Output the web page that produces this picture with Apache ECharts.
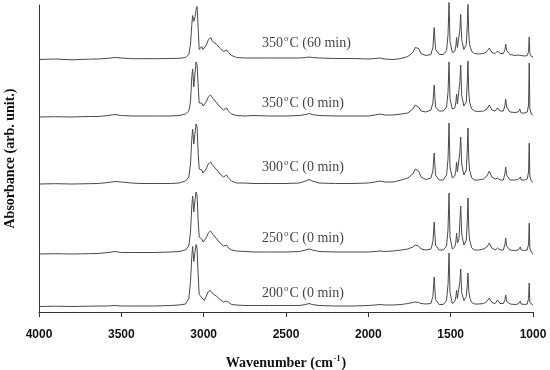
<!DOCTYPE html>
<html>
<head>
<meta charset="utf-8">
<script src="https://cdn.jsdelivr.net/npm/echarts@6/dist/echarts.min.js"></script>
<style>html,body{margin:0;padding:0;background:#fff}#c{width:550px;height:370px}</style>
</head>
<body>
<div id="c"></div>
<script>
// Wavenumber grid (cm-1), rows of 10
const wavenumbers = [
  4000,3900,3800,3700,3640,3580,3540,3500,3440,3380,
  3300,3200,3150,3110,3090,3080,3072,3067,3060,3052,
  3046,3040,3033,3027,3020,3012,3004,2996,2985,2972,
  2965,2958,2946,2935,2920,2900,2880,2868,2860,2850,
  2830,2800,2750,2700,2600,2500,2420,2380,2360,2340,
  2300,2200,2100,2000,1960,1930,1900,1850,1800,1760,
  1730,1715,1706,1695,1680,1650,1620,1608,1600,1592,
  1570,1545,1525,1516,1510,1504,1490,1475,1468,1464,
  1459,1450,1444,1439,1433,1420,1405,1399,1395,1390,
  1385,1380,1372,1355,1330,1300,1280,1265,1250,1230,
  1215,1200,1180,1170,1166,1160,1140,1110,1090,1080,
  1077,1072,1050,1035,1027,1023,1019,1010,1000
];

// Absorbance (arb. units) of each spectrum, same order as wavenumbers
const abs350_60 = [
  0,0.5,-0.3,0.3,0.5,1.2,2,1.5,0.8,0.8,
  0.8,1,1.2,2,5,15,35,44,38,43,
  50,53,30,10,12,13,10,8,14,19.5,
  18,22,18,20,15,11,8,9,9.5,7,
  4,2,1.5,1.5,1.5,1.5,1.5,2,2.5,2,
  1.5,1,1,0.5,1,1.5,0.5,0,1,3,
  7,12,14,11,6,4,5,12,32,10,
  5,5,9,25,57,18,7,8,14,22,
  12,14,30,45,20,10,15,35,55,25,
  15,12,8,6,5.5,6,8,11.5,7,6,
  8.5,6,6,10,15.5,9,5,4,4.5,6,
  6.5,4,3.5,4,8,22.5,6,3,2.5
];
const abs350_0 = [
  0,0.3,0,0.5,0.5,1.5,2.5,1.5,1,1,
  1,1,1.5,3,6,15,40,48,30,45,
  55,52,30,14,15,14,11,10,15,20,
  18,22,19,18.5,14,10,7,8,9,6,
  3,1.5,1,1.5,1,1,1.5,2.5,3.5,2.5,
  1.5,1,1,1,2,3,2,2,3,4,
  8,12,13,10,6,5,7,14,32,10,
  6,6,10,25,55,18,8,9,15,23,
  13,15,35,52,22,11,15,35,56,25,
  15,12,8,6,5.5,6,8,12,7,6,
  9,6,6,12,18,10,5,4.5,5,8,
  9,4,4,5,12,54,8,3,2
];
const abs300_0 = [
  0,0.3,0,0.3,0.5,1.5,2.5,2,1,0.5,
  0.5,0.5,1,3,7,20,45,55,40,52,
  60,57,30,15,16,14,11,10,15,20,
  18,22,19,18,14,10,7,8,9,6,
  3,1,1,0.5,0.5,0.5,1,3,4.5,3,
  1,0.5,0.5,1,2,3,2,2,4,6,
  10,15,16.5,13,7,4.5,6,13,31,9,
  4,4,9,25,61,17,6,8,14,22,
  12,14,32,47,20,9,14,35,56,25,
  14,11,6,4,4,5,8,13,7,5,
  6,4,4,11,17,9,4,4,4.5,6,
  7,4,4,5,12,41,7,3,2
];
const abs250_0 = [
  0,0.3,0,0.3,0.5,1.5,2.5,1.5,1.5,1.5,
  1.5,2,2.5,4,8,22,48,58,42,55,
  62,58,32,17,18,15,12,11,16,21,
  19,23,20,19,15,11,8,8.5,9,6,
  4,3,2.5,2,2,2,2.5,4,5,4,
  2.5,2,2,2,2.5,3,2.5,3,4,5,
  7,9,10,8,5,4,5,12,32,9,
  4,4,8,25,61,17,5,7,13,21,
  11,14,32,48,20,9,14,34,56,25,
  14,11,6,4,4,5,7,11,6,4,
  6,4,4,10,16,8,4,3.5,4,6,
  7,4,3.5,4,10,31,6,2,0
];
const abs200_0 = [
  0,0.3,0,0.3,0.5,0.5,1,0.5,0.5,0.5,
  0.5,1,1.5,2.5,8,25,50,60,45,55,
  62,58,30,12,10,9,7,6,10,15,
  13,16,13,14,10,7,4.5,5,5.5,3.5,
  2,1.5,1,1,1,1,1,2,3,2,
  1,0.5,0.5,1,1.5,2,1.5,1.5,2,3,
  4,4.5,4.5,4,3,2.5,3,10,29.5,7,
  2,2,6,22,53.5,14,3,5,10,16.5,
  8,10,25,37.5,14,6,10,22,33.5,16,
  9.5,7,4,2.5,2.5,3,5,8.5,4,3,
  6.5,3,3,7,11.5,5,2.5,2,2.5,4,
  5.5,2.5,2,2.5,8,23.5,4,2,1.5
];

// Stacking offsets (arb. units) for each spectrum, top to bottom
const spectra = [abs350_60, abs350_0, abs300_0, abs250_0, abs200_0];
const offsets = [252.5, 195, 128, 58, 5.5];
const labelTemps = ['350', '350', '300', '250', '200'];
const labelTimes = ['60 min', '0 min', '0 min', '0 min', '0 min'];
const labelWavenumber = 2646;
const labelLevels = [269, 209, 145, 74, 19];

const xTicks = [1000, 1500, 2000, 2500, 3000, 3500, 4000];

const lineColor = '#4a4a4a';
const series = spectra.map((vals, k) => ({
  type: 'line',
  name: labelTemps[k] + '°C (' + labelTimes[k] + ')',
  data: wavenumbers.map((w, i) => [w, offsets[k] + vals[i]]),
  showSymbol: false,
  symbol: 'none',
  clip: false,
  lineStyle: { color: lineColor, width: 1 },
  silent: true,
  animation: false
}));

series.push({
  type: 'scatter',
  symbolSize: 0,
  animation: false,
  silent: true,
  data: labelLevels.map((y, k) => ({ value: [labelWavenumber, y], temp: labelTemps[k], time: labelTimes[k] })),
  label: {
    show: true,
    position: 'right',
    distance: 0,
    formatter: p => p.data.temp + '{sup|o}C (' + p.data.time + ')',
    fontFamily: 'Liberation Serif',
    fontSize: 14,
    color: '#111',
    rich: {
      sup: { fontFamily: 'Liberation Serif', fontSize: 9, color: '#111', verticalAlign: 'top', padding: [0, 1, 8, 1] }
    }
  }
});

const chart = echarts.init(document.getElementById('c'), null, { renderer: 'canvas' });
chart.setOption({
  backgroundColor: '#fff',
  animation: false,
  grid: { left: 39, right: 17, top: 5, bottom: 58, containLabel: false, outerBoundsMode: 'none' },
  xAxis: {
    type: 'value',
    inverse: true,
    min: xTicks[0],
    max: xTicks[xTicks.length - 1],
    interval: 500,
    name: 'Wavenumber (cm{sup|-1})',
    nameLocation: 'middle',
    nameGap: 43,
    nameTextStyle: {
      fontFamily: 'Liberation Serif', fontWeight: 'bold', fontSize: 14, color: '#111',
      rich: { sup: { fontFamily: 'Liberation Serif', fontWeight: 'bold', fontSize: 8, color: '#111', verticalAlign: 'top', padding: [0, 1, 9, 1] } }
    },
    axisLine: { show: true, lineStyle: { color: '#333', width: 1 } },
    axisTick: { show: true, inside: false, length: 5, lineStyle: { color: '#333' } },
    axisLabel: { fontFamily: 'Liberation Sans', fontWeight: 'bold', fontSize: 12, color: '#111', margin: 17, formatter: v => String(v) },
    splitLine: { show: false }
  },
  yAxis: {
    type: 'value',
    min: 0,
    max: 307,
    name: 'Absorbance (arb. unit.)',
    nameLocation: 'middle',
    nameGap: 22,
    nameTextStyle: { fontFamily: 'Liberation Serif', fontWeight: 'bold', fontSize: 14, color: '#111' },
    axisLine: { show: true, lineStyle: { color: '#333', width: 1 } },
    axisTick: { show: false },
    axisLabel: { show: false },
    splitLine: { show: false }
  },
  series: series
});
</script>
</body>
</html>
